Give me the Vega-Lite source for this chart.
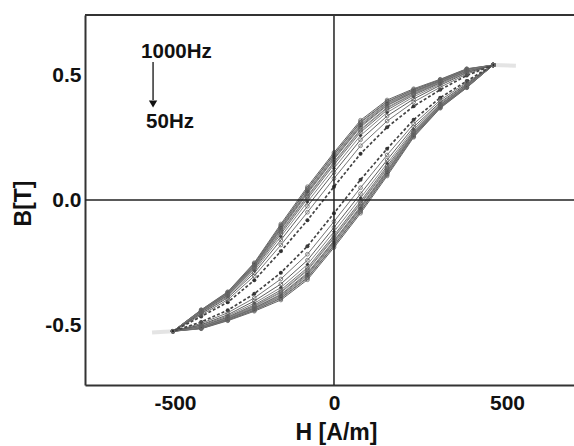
{
  "$schema": "https://vega.github.io/schema/vega-lite/v6.json",
  "width": 489,
  "height": 370,
  "autosize": {"type": "none"},
  "padding": {"left": 85, "top": 15, "right": 0, "bottom": 61},
  "background": "white",
  "config": {
    "view": {"stroke": null},
    "font": "Liberation Sans",
    "axis": {
      "domainColor": "#333333",
      "domainWidth": 2,
      "ticks": false,
      "grid": false,
      "labelFont": "Liberation Sans",
      "labelFontSize": 21,
      "labelFontWeight": "bold",
      "labelColor": "#111111",
      "titleFont": "Liberation Sans",
      "titleFontSize": 23,
      "titleFontWeight": "bold",
      "titleColor": "#111111"
    }
  },
  "datasets": {
    "loops": [
      {"f":1000,"i":0,"H":480,"B":0.54},{"f":1000,"i":1,"H":400,"B":0.525},{"f":1000,"i":2,"H":320,"B":0.483},{"f":1000,"i":3,"H":240,"B":0.445},{"f":1000,"i":4,"H":160,"B":0.4},{"f":1000,"i":5,"H":80,"B":0.319},{"f":1000,"i":6,"H":0,"B":0.19},{"f":1000,"i":7,"H":-80,"B":0.053},{"f":1000,"i":8,"H":-160,"B":-0.096},{"f":1000,"i":9,"H":-240,"B":-0.251},{"f":1000,"i":10,"H":-320,"B":-0.367},{"f":1000,"i":11,"H":-400,"B":-0.439},{"f":1000,"i":12,"H":-485,"B":-0.525},{"f":1000,"i":13,"H":-400,"B":-0.515},{"f":1000,"i":14,"H":-320,"B":-0.483},{"f":1000,"i":15,"H":-240,"B":-0.445},{"f":1000,"i":16,"H":-160,"B":-0.4},{"f":1000,"i":17,"H":-80,"B":-0.319},{"f":1000,"i":18,"H":0,"B":-0.19},{"f":1000,"i":19,"H":80,"B":-0.053},{"f":1000,"i":20,"H":160,"B":0.096},{"f":1000,"i":21,"H":240,"B":0.251},{"f":1000,"i":22,"H":320,"B":0.367},{"f":1000,"i":23,"H":400,"B":0.449},{"f":1000,"i":24,"H":480,"B":0.54},
      {"f":900,"i":0,"H":480,"B":0.54},{"f":900,"i":1,"H":400,"B":0.524},{"f":900,"i":2,"H":320,"B":0.481},{"f":900,"i":3,"H":240,"B":0.442},{"f":900,"i":4,"H":160,"B":0.395},{"f":900,"i":5,"H":80,"B":0.313},{"f":900,"i":6,"H":0,"B":0.184},{"f":900,"i":7,"H":-80,"B":0.047},{"f":900,"i":8,"H":-160,"B":-0.101},{"f":900,"i":9,"H":-240,"B":-0.254},{"f":900,"i":10,"H":-320,"B":-0.369},{"f":900,"i":11,"H":-400,"B":-0.44},{"f":900,"i":12,"H":-485,"B":-0.525},{"f":900,"i":13,"H":-400,"B":-0.514},{"f":900,"i":14,"H":-320,"B":-0.481},{"f":900,"i":15,"H":-240,"B":-0.442},{"f":900,"i":16,"H":-160,"B":-0.395},{"f":900,"i":17,"H":-80,"B":-0.313},{"f":900,"i":18,"H":0,"B":-0.184},{"f":900,"i":19,"H":80,"B":-0.047},{"f":900,"i":20,"H":160,"B":0.101},{"f":900,"i":21,"H":240,"B":0.254},{"f":900,"i":22,"H":320,"B":0.369},{"f":900,"i":23,"H":400,"B":0.45},{"f":900,"i":24,"H":480,"B":0.54},
      {"f":800,"i":0,"H":480,"B":0.54},{"f":800,"i":1,"H":400,"B":0.523},{"f":800,"i":2,"H":320,"B":0.48},{"f":800,"i":3,"H":240,"B":0.44},{"f":800,"i":4,"H":160,"B":0.392},{"f":800,"i":5,"H":80,"B":0.31},{"f":800,"i":6,"H":0,"B":0.181},{"f":800,"i":7,"H":-80,"B":0.044},{"f":800,"i":8,"H":-160,"B":-0.104},{"f":800,"i":9,"H":-240,"B":-0.256},{"f":800,"i":10,"H":-320,"B":-0.37},{"f":800,"i":11,"H":-400,"B":-0.441},{"f":800,"i":12,"H":-485,"B":-0.525},{"f":800,"i":13,"H":-400,"B":-0.513},{"f":800,"i":14,"H":-320,"B":-0.48},{"f":800,"i":15,"H":-240,"B":-0.44},{"f":800,"i":16,"H":-160,"B":-0.392},{"f":800,"i":17,"H":-80,"B":-0.31},{"f":800,"i":18,"H":0,"B":-0.181},{"f":800,"i":19,"H":80,"B":-0.044},{"f":800,"i":20,"H":160,"B":0.104},{"f":800,"i":21,"H":240,"B":0.256},{"f":800,"i":22,"H":320,"B":0.37},{"f":800,"i":23,"H":400,"B":0.451},{"f":800,"i":24,"H":480,"B":0.54},
      {"f":700,"i":0,"H":480,"B":0.54},{"f":700,"i":1,"H":400,"B":0.522},{"f":700,"i":2,"H":320,"B":0.478},{"f":700,"i":3,"H":240,"B":0.437},{"f":700,"i":4,"H":160,"B":0.388},{"f":700,"i":5,"H":80,"B":0.304},{"f":700,"i":6,"H":0,"B":0.175},{"f":700,"i":7,"H":-80,"B":0.038},{"f":700,"i":8,"H":-160,"B":-0.108},{"f":700,"i":9,"H":-240,"B":-0.259},{"f":700,"i":10,"H":-320,"B":-0.372},{"f":700,"i":11,"H":-400,"B":-0.442},{"f":700,"i":12,"H":-485,"B":-0.525},{"f":700,"i":13,"H":-400,"B":-0.512},{"f":700,"i":14,"H":-320,"B":-0.478},{"f":700,"i":15,"H":-240,"B":-0.437},{"f":700,"i":16,"H":-160,"B":-0.388},{"f":700,"i":17,"H":-80,"B":-0.304},{"f":700,"i":18,"H":0,"B":-0.175},{"f":700,"i":19,"H":80,"B":-0.038},{"f":700,"i":20,"H":160,"B":0.108},{"f":700,"i":21,"H":240,"B":0.259},{"f":700,"i":22,"H":320,"B":0.372},{"f":700,"i":23,"H":400,"B":0.452},{"f":700,"i":24,"H":480,"B":0.54},
      {"f":600,"i":0,"H":480,"B":0.54},{"f":600,"i":1,"H":400,"B":0.521},{"f":600,"i":2,"H":320,"B":0.477},{"f":600,"i":3,"H":240,"B":0.435},{"f":600,"i":4,"H":160,"B":0.385},{"f":600,"i":5,"H":80,"B":0.3},{"f":600,"i":6,"H":0,"B":0.171},{"f":600,"i":7,"H":-80,"B":0.034},{"f":600,"i":8,"H":-160,"B":-0.111},{"f":600,"i":9,"H":-240,"B":-0.261},{"f":600,"i":10,"H":-320,"B":-0.373},{"f":600,"i":11,"H":-400,"B":-0.443},{"f":600,"i":12,"H":-485,"B":-0.525},{"f":600,"i":13,"H":-400,"B":-0.511},{"f":600,"i":14,"H":-320,"B":-0.477},{"f":600,"i":15,"H":-240,"B":-0.435},{"f":600,"i":16,"H":-160,"B":-0.385},{"f":600,"i":17,"H":-80,"B":-0.3},{"f":600,"i":18,"H":0,"B":-0.171},{"f":600,"i":19,"H":80,"B":-0.034},{"f":600,"i":20,"H":160,"B":0.111},{"f":600,"i":21,"H":240,"B":0.261},{"f":600,"i":22,"H":320,"B":0.373},{"f":600,"i":23,"H":400,"B":0.453},{"f":600,"i":24,"H":480,"B":0.54},
      {"f":550,"i":0,"H":480,"B":0.54},{"f":550,"i":1,"H":400,"B":0.52},{"f":550,"i":2,"H":320,"B":0.475},{"f":550,"i":3,"H":240,"B":0.432},{"f":550,"i":4,"H":160,"B":0.38},{"f":550,"i":5,"H":80,"B":0.295},{"f":550,"i":6,"H":0,"B":0.165},{"f":550,"i":7,"H":-80,"B":0.029},{"f":550,"i":8,"H":-160,"B":-0.116},{"f":550,"i":9,"H":-240,"B":-0.264},{"f":550,"i":10,"H":-320,"B":-0.375},{"f":550,"i":11,"H":-400,"B":-0.444},{"f":550,"i":12,"H":-485,"B":-0.525},{"f":550,"i":13,"H":-400,"B":-0.51},{"f":550,"i":14,"H":-320,"B":-0.475},{"f":550,"i":15,"H":-240,"B":-0.432},{"f":550,"i":16,"H":-160,"B":-0.38},{"f":550,"i":17,"H":-80,"B":-0.295},{"f":550,"i":18,"H":0,"B":-0.165},{"f":550,"i":19,"H":80,"B":-0.029},{"f":550,"i":20,"H":160,"B":0.116},{"f":550,"i":21,"H":240,"B":0.264},{"f":550,"i":22,"H":320,"B":0.375},{"f":550,"i":23,"H":400,"B":0.454},{"f":550,"i":24,"H":480,"B":0.54},
      {"f":500,"i":0,"H":480,"B":0.54},{"f":500,"i":1,"H":400,"B":0.519},{"f":500,"i":2,"H":320,"B":0.474},{"f":500,"i":3,"H":240,"B":0.43},{"f":500,"i":4,"H":160,"B":0.377},{"f":500,"i":5,"H":80,"B":0.291},{"f":500,"i":6,"H":0,"B":0.162},{"f":500,"i":7,"H":-80,"B":0.025},{"f":500,"i":8,"H":-160,"B":-0.119},{"f":500,"i":9,"H":-240,"B":-0.266},{"f":500,"i":10,"H":-320,"B":-0.376},{"f":500,"i":11,"H":-400,"B":-0.445},{"f":500,"i":12,"H":-485,"B":-0.525},{"f":500,"i":13,"H":-400,"B":-0.509},{"f":500,"i":14,"H":-320,"B":-0.474},{"f":500,"i":15,"H":-240,"B":-0.43},{"f":500,"i":16,"H":-160,"B":-0.377},{"f":500,"i":17,"H":-80,"B":-0.291},{"f":500,"i":18,"H":0,"B":-0.162},{"f":500,"i":19,"H":80,"B":-0.025},{"f":500,"i":20,"H":160,"B":0.119},{"f":500,"i":21,"H":240,"B":0.266},{"f":500,"i":22,"H":320,"B":0.376},{"f":500,"i":23,"H":400,"B":0.455},{"f":500,"i":24,"H":480,"B":0.54},
      {"f":400,"i":0,"H":480,"B":0.54},{"f":400,"i":1,"H":400,"B":0.517},{"f":400,"i":2,"H":320,"B":0.471},{"f":400,"i":3,"H":240,"B":0.426},{"f":400,"i":4,"H":160,"B":0.37},{"f":400,"i":5,"H":80,"B":0.282},{"f":400,"i":6,"H":0,"B":0.152},{"f":400,"i":7,"H":-80,"B":0.016},{"f":400,"i":8,"H":-160,"B":-0.126},{"f":400,"i":9,"H":-240,"B":-0.27},{"f":400,"i":10,"H":-320,"B":-0.379},{"f":400,"i":11,"H":-400,"B":-0.447},{"f":400,"i":12,"H":-485,"B":-0.525},{"f":400,"i":13,"H":-400,"B":-0.507},{"f":400,"i":14,"H":-320,"B":-0.471},{"f":400,"i":15,"H":-240,"B":-0.426},{"f":400,"i":16,"H":-160,"B":-0.37},{"f":400,"i":17,"H":-80,"B":-0.282},{"f":400,"i":18,"H":0,"B":-0.152},{"f":400,"i":19,"H":80,"B":-0.016},{"f":400,"i":20,"H":160,"B":0.126},{"f":400,"i":21,"H":240,"B":0.27},{"f":400,"i":22,"H":320,"B":0.379},{"f":400,"i":23,"H":400,"B":0.457},{"f":400,"i":24,"H":480,"B":0.54},
      {"f":350,"i":0,"H":480,"B":0.54},{"f":350,"i":1,"H":400,"B":0.517},{"f":350,"i":2,"H":320,"B":0.47},{"f":350,"i":3,"H":240,"B":0.424},{"f":350,"i":4,"H":160,"B":0.367},{"f":350,"i":5,"H":80,"B":0.278},{"f":350,"i":6,"H":0,"B":0.148},{"f":350,"i":7,"H":-80,"B":0.012},{"f":350,"i":8,"H":-160,"B":-0.129},{"f":350,"i":9,"H":-240,"B":-0.272},{"f":350,"i":10,"H":-320,"B":-0.38},{"f":350,"i":11,"H":-400,"B":-0.447},{"f":350,"i":12,"H":-485,"B":-0.525},{"f":350,"i":13,"H":-400,"B":-0.507},{"f":350,"i":14,"H":-320,"B":-0.47},{"f":350,"i":15,"H":-240,"B":-0.424},{"f":350,"i":16,"H":-160,"B":-0.367},{"f":350,"i":17,"H":-80,"B":-0.278},{"f":350,"i":18,"H":0,"B":-0.148},{"f":350,"i":19,"H":80,"B":-0.012},{"f":350,"i":20,"H":160,"B":0.129},{"f":350,"i":21,"H":240,"B":0.272},{"f":350,"i":22,"H":320,"B":0.38},{"f":350,"i":23,"H":400,"B":0.457},{"f":350,"i":24,"H":480,"B":0.54},
      {"f":300,"i":0,"H":480,"B":0.54},{"f":300,"i":1,"H":400,"B":0.515},{"f":300,"i":2,"H":320,"B":0.468},{"f":300,"i":3,"H":240,"B":0.42},{"f":300,"i":4,"H":160,"B":0.36},{"f":300,"i":5,"H":80,"B":0.271},{"f":300,"i":6,"H":0,"B":0.141},{"f":300,"i":7,"H":-80,"B":0.005},{"f":300,"i":8,"H":-160,"B":-0.136},{"f":300,"i":9,"H":-240,"B":-0.276},{"f":300,"i":10,"H":-320,"B":-0.382},{"f":300,"i":11,"H":-400,"B":-0.449},{"f":300,"i":12,"H":-485,"B":-0.525},{"f":300,"i":13,"H":-400,"B":-0.505},{"f":300,"i":14,"H":-320,"B":-0.468},{"f":300,"i":15,"H":-240,"B":-0.42},{"f":300,"i":16,"H":-160,"B":-0.36},{"f":300,"i":17,"H":-80,"B":-0.271},{"f":300,"i":18,"H":0,"B":-0.141},{"f":300,"i":19,"H":80,"B":-0.005},{"f":300,"i":20,"H":160,"B":0.136},{"f":300,"i":21,"H":240,"B":0.276},{"f":300,"i":22,"H":320,"B":0.382},{"f":300,"i":23,"H":400,"B":0.459},{"f":300,"i":24,"H":480,"B":0.54},
      {"f":200,"i":0,"H":480,"B":0.54},{"f":200,"i":1,"H":400,"B":0.512},{"f":200,"i":2,"H":320,"B":0.464},{"f":200,"i":3,"H":240,"B":0.413},{"f":200,"i":4,"H":160,"B":0.35},{"f":200,"i":5,"H":80,"B":0.258},{"f":200,"i":6,"H":0,"B":0.127},{"f":200,"i":7,"H":-80,"B":-0.008},{"f":200,"i":8,"H":-160,"B":-0.146},{"f":200,"i":9,"H":-240,"B":-0.283},{"f":200,"i":10,"H":-320,"B":-0.386},{"f":200,"i":11,"H":-400,"B":-0.452},{"f":200,"i":12,"H":-485,"B":-0.525},{"f":200,"i":13,"H":-400,"B":-0.502},{"f":200,"i":14,"H":-320,"B":-0.464},{"f":200,"i":15,"H":-240,"B":-0.413},{"f":200,"i":16,"H":-160,"B":-0.35},{"f":200,"i":17,"H":-80,"B":-0.258},{"f":200,"i":18,"H":0,"B":-0.127},{"f":200,"i":19,"H":80,"B":0.008},{"f":200,"i":20,"H":160,"B":0.146},{"f":200,"i":21,"H":240,"B":0.283},{"f":200,"i":22,"H":320,"B":0.386},{"f":200,"i":23,"H":400,"B":0.462},{"f":200,"i":24,"H":480,"B":0.54},
      {"f":150,"i":0,"H":480,"B":0.54},{"f":150,"i":1,"H":400,"B":0.509},{"f":150,"i":2,"H":320,"B":0.459},{"f":150,"i":3,"H":240,"B":0.404},{"f":150,"i":4,"H":160,"B":0.336},{"f":150,"i":5,"H":80,"B":0.241},{"f":150,"i":6,"H":0,"B":0.11},{"f":150,"i":7,"H":-80,"B":-0.025},{"f":150,"i":8,"H":-160,"B":-0.16},{"f":150,"i":9,"H":-240,"B":-0.292},{"f":150,"i":10,"H":-320,"B":-0.391},{"f":150,"i":11,"H":-400,"B":-0.455},{"f":150,"i":12,"H":-485,"B":-0.525},{"f":150,"i":13,"H":-400,"B":-0.499},{"f":150,"i":14,"H":-320,"B":-0.459},{"f":150,"i":15,"H":-240,"B":-0.404},{"f":150,"i":16,"H":-160,"B":-0.336},{"f":150,"i":17,"H":-80,"B":-0.241},{"f":150,"i":18,"H":0,"B":-0.11},{"f":150,"i":19,"H":80,"B":0.025},{"f":150,"i":20,"H":160,"B":0.16},{"f":150,"i":21,"H":240,"B":0.292},{"f":150,"i":22,"H":320,"B":0.391},{"f":150,"i":23,"H":400,"B":0.465},{"f":150,"i":24,"H":480,"B":0.54},
      {"f":100,"i":0,"H":480,"B":0.54},{"f":100,"i":1,"H":400,"B":0.504},{"f":100,"i":2,"H":320,"B":0.451},{"f":100,"i":3,"H":240,"B":0.392},{"f":100,"i":4,"H":160,"B":0.316},{"f":100,"i":5,"H":80,"B":0.217},{"f":100,"i":6,"H":0,"B":0.086},{"f":100,"i":7,"H":-80,"B":-0.049},{"f":100,"i":8,"H":-160,"B":-0.18},{"f":100,"i":9,"H":-240,"B":-0.304},{"f":100,"i":10,"H":-320,"B":-0.399},{"f":100,"i":11,"H":-400,"B":-0.46},{"f":100,"i":12,"H":-485,"B":-0.525},{"f":100,"i":13,"H":-400,"B":-0.494},{"f":100,"i":14,"H":-320,"B":-0.451},{"f":100,"i":15,"H":-240,"B":-0.392},{"f":100,"i":16,"H":-160,"B":-0.316},{"f":100,"i":17,"H":-80,"B":-0.217},{"f":100,"i":18,"H":0,"B":-0.086},{"f":100,"i":19,"H":80,"B":0.049},{"f":100,"i":20,"H":160,"B":0.18},{"f":100,"i":21,"H":240,"B":0.304},{"f":100,"i":22,"H":320,"B":0.399},{"f":100,"i":23,"H":400,"B":0.47},{"f":100,"i":24,"H":480,"B":0.54},
      {"f":50,"i":0,"H":480,"B":0.54},{"f":50,"i":1,"H":400,"B":0.498},{"f":50,"i":2,"H":320,"B":0.441},{"f":50,"i":3,"H":240,"B":0.375},{"f":50,"i":4,"H":160,"B":0.291},{"f":50,"i":5,"H":80,"B":0.185},{"f":50,"i":6,"H":0,"B":0.053},{"f":50,"i":7,"H":-80,"B":-0.081},{"f":50,"i":8,"H":-160,"B":-0.205},{"f":50,"i":9,"H":-240,"B":-0.321},{"f":50,"i":10,"H":-320,"B":-0.409},{"f":50,"i":11,"H":-400,"B":-0.466},{"f":50,"i":12,"H":-485,"B":-0.525},{"f":50,"i":13,"H":-400,"B":-0.488},{"f":50,"i":14,"H":-320,"B":-0.441},{"f":50,"i":15,"H":-240,"B":-0.375},{"f":50,"i":16,"H":-160,"B":-0.291},{"f":50,"i":17,"H":-80,"B":-0.185},{"f":50,"i":18,"H":0,"B":-0.053},{"f":50,"i":19,"H":80,"B":0.081},{"f":50,"i":20,"H":160,"B":0.205},{"f":50,"i":21,"H":240,"B":0.321},{"f":50,"i":22,"H":320,"B":0.409},{"f":50,"i":23,"H":400,"B":0.476},{"f":50,"i":24,"H":480,"B":0.54}
    ],
    "tail": [
      {"s":"r","H":480,"B":0.54},{"s":"r","H":548,"B":0.537},
      {"s":"l","H":-485,"B":-0.525},{"s":"l","H":-548,"B":-0.53}
    ],
    "ann": [
      {"H":-581,"B":0.592,"t":"1000Hz"},
      {"H":-566,"B":0.312,"t":"50Hz"}
    ],
    "arrow": [
      {"H":-545,"B":0.552,"B2":0.40}
    ],
    "head": [
      {"H":-545,"B":0.384}
    ],
    "zero": [
      {"v":0,"top":0.74}
    ]
  },
  "layer": [
    {
      "data": {"name": "tail"},
      "mark": {"type": "line", "color": "#dddddd", "strokeWidth": 4, "opacity": 0.8},
      "encoding": {
        "x": {"field": "H", "type": "quantitative", "scale": {"domain": [-750, 723], "nice": false, "zero": false},
              "axis": {"title": "H [A/m]", "values": [-500, 0, 500], "labelPadding": 7, "labelBaseline": "top",
                       "labelExpr": "datum.value < 0 ? '-' + abs(datum.value) : '' + datum.value",
                       "labelOffset": {"condition": {"test": "datum.value != 0", "value": 7}, "value": 0},
                       "titleX": 251, "titleY": 47, "titleBaseline": "middle", "titleAlign": "center"}},
        "y": {"field": "B", "type": "quantitative", "scale": {"domain": [-0.74, 0.74], "nice": false, "zero": false},
              "axis": {"title": "B[T]", "values": [-0.5, 0, 0.5], "labelPadding": 4,
                       "labelExpr": "datum.value < 0 ? '-' + format(abs(datum.value), '.1f') : format(datum.value, '.1f')",
                       "titleX": -62, "titleY": 188, "titleAngle": -90, "titleBaseline": "middle", "titleAlign": "center"}},
        "detail": {"field": "s"}
      }
    },
    {
      "data": {"name": "loops"},
      "transform": [{"filter": "datum.f != 50"}],
      "mark": {"type": "line", "strokeWidth": 1, "opacity": 0.9},
      "encoding": {
        "x": {"field": "H", "type": "quantitative"},
        "y": {"field": "B", "type": "quantitative"},
        "order": {"field": "i"},
        "color": {"field": "f", "type": "nominal", "legend": null,
                  "scale": {"domain": [100,150,200,300,350,400,500,550,600,700,800,900,1000],
                            "range": ["#666666","#4d4d4d","#777777","#5e5e5e","#888888","#6a6a6a","#7a7a7a","#555555","#707070","#858585","#5a5a5a","#7d7d7d","#505050"]}}
      }
    },
    {
      "data": {"name": "loops"},
      "transform": [{"filter": "datum.f == 50"}],
      "mark": {"type": "line", "strokeWidth": 1.7, "strokeDash": [3, 2], "color": "#444444"},
      "encoding": {
        "x": {"field": "H", "type": "quantitative"},
        "y": {"field": "B", "type": "quantitative"},
        "order": {"field": "i"}
      }
    },
    {
      "data": {"name": "loops"},
      "transform": [{"filter": "datum.f == 50 || datum.f == 200 || datum.f == 600"}],
      "mark": {"type": "point", "filled": true, "size": 16, "color": "#2a2a2a", "opacity": 0.9},
      "encoding": {
        "x": {"field": "H", "type": "quantitative"},
        "y": {"field": "B", "type": "quantitative"},
        "shape": {"field": "f", "type": "nominal", "legend": null,
                  "scale": {"domain": [50,200,600], "range": ["circle","diamond","circle"]}}
      }
    },
    {
      "data": {"name": "loops"},
      "transform": [{"filter": "datum.f != 50 && datum.f != 200 && datum.f != 600"}],
      "mark": {"type": "point", "filled": false, "size": 14, "strokeWidth": 1, "color": "#666666", "opacity": 0.8},
      "encoding": {
        "x": {"field": "H", "type": "quantitative"},
        "y": {"field": "B", "type": "quantitative"}
      }
    },
    {
      "data": {"name": "zero"},
      "mark": {"type": "rule", "color": "#222222", "strokeWidth": 1.5},
      "encoding": {"y": {"field": "v", "type": "quantitative"}}
    },
    {
      "data": {"name": "zero"},
      "mark": {"type": "rule", "color": "#222222", "strokeWidth": 1.5},
      "encoding": {"x": {"field": "v", "type": "quantitative"}}
    },
    {
      "data": {"name": "zero"},
      "mark": {"type": "rule", "color": "#333333", "strokeWidth": 2},
      "encoding": {"y": {"field": "top", "type": "quantitative"}}
    },
    {
      "data": {"name": "arrow"},
      "mark": {"type": "rule", "color": "#111111", "strokeWidth": 1.3},
      "encoding": {
        "x": {"field": "H", "type": "quantitative"},
        "y": {"field": "B", "type": "quantitative"},
        "y2": {"field": "B2"}
      }
    },
    {
      "data": {"name": "head"},
      "mark": {"type": "point", "shape": "triangle-down", "filled": true, "size": 70, "color": "#111111", "opacity": 1},
      "encoding": {
        "x": {"field": "H", "type": "quantitative"},
        "y": {"field": "B", "type": "quantitative"}
      }
    },
    {
      "data": {"name": "ann"},
      "mark": {"type": "text", "align": "left", "baseline": "middle", "font": "Liberation Sans", "fontWeight": "bold", "fontSize": 20.5, "color": "#111111"},
      "encoding": {
        "x": {"field": "H", "type": "quantitative"},
        "y": {"field": "B", "type": "quantitative"},
        "text": {"field": "t"}
      }
    }
  ]
}
